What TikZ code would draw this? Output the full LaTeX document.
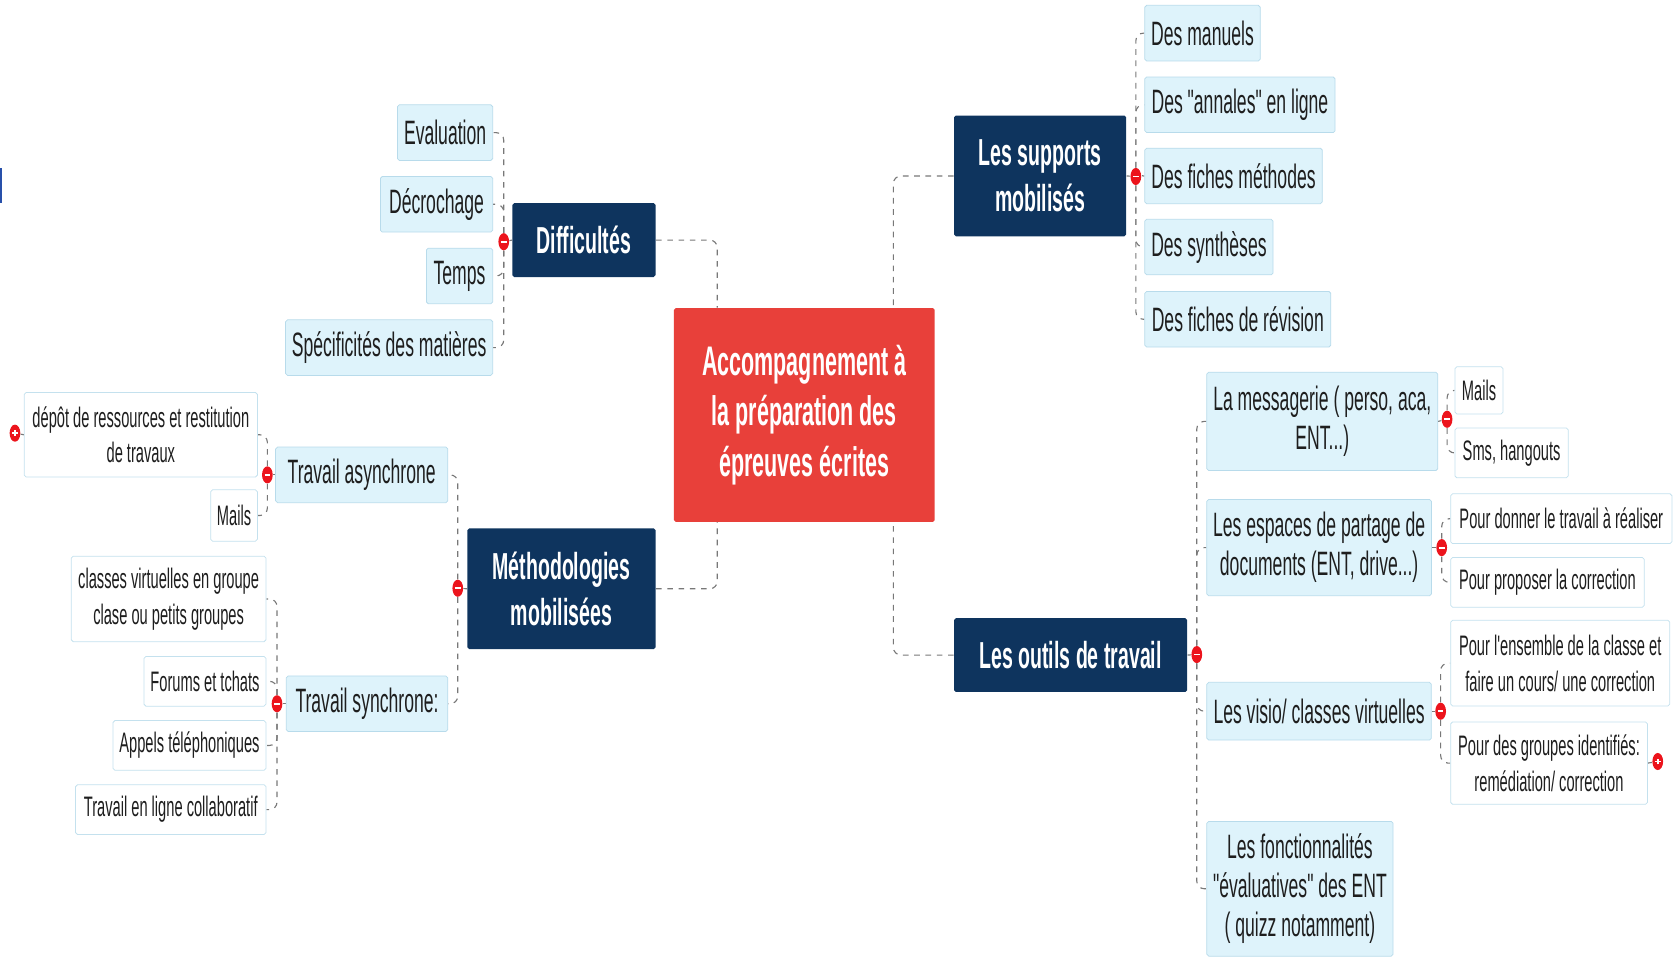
\documentclass[tikz,border=0pt]{standalone}
\usepackage{fontspec}
\setmainfont{Liberation Sans}[FakeStretch=0.52, Ligatures=TeXOff]
\usepackage{tikz}
\usetikzlibrary{shapes, positioning, calc}
\definecolor{rootred}{RGB}{232,64,58}
\definecolor{navy}{RGB}{14,52,94}
\definecolor{skyfill}{RGB}{222,243,251}
\definecolor{skyline}{RGB}{184,219,235}
\definecolor{leafline}{RGB}{196,225,238}
\definecolor{linkgrey}{RGB}{120,120,120}
\definecolor{foldred}{RGB}{236,20,28}
\definecolor{ink}{RGB}{30,30,30}
\definecolor{edgeblue}{RGB}{40,80,170}
\newcommand\rootfont{\fontsize{22}{27}\selectfont\bfseries}
\newcommand\topicfont{\fontsize{20}{24.5}\selectfont\bfseries}
\newcommand\subfont{\fontsize{18}{20.8}\selectfont}
\newcommand\leaffont{\fontsize{15}{19}\selectfont}
\pgfdeclarelayer{back}
\pgfsetlayers{back,main}
\tikzstyle{root} = [rectangle, fill=rootred, text=white, font=\rootfont, align=center, minimum width=4.88cm, minimum height=4cm, rounded corners=1pt]
\tikzstyle{topic} = [rectangle, fill=navy, text=white, font=\topicfont, align=center, rounded corners=1pt]
\tikzstyle{sub} = [rectangle, fill=skyfill, draw=skyline, text=ink, font=\subfont, align=center, minimum height=1.04cm, rounded corners=1pt]
\tikzstyle{leaf} = [rectangle, fill=white, draw=leafline, text=ink, font=\leaffont, align=center, minimum height=0.93cm, rounded corners=1pt]
\tikzstyle{link} = [draw=linkgrey, dashed, line width=0.6pt, rounded corners=4pt]
\tikzstyle{fold} = [ellipse, fill=foldred, minimum width=0.2cm, minimum height=0.32cm, inner sep=0pt, path picture={\draw[white, line width=1pt] ([xshift=-1.5pt]path picture bounding box.center) -- ([xshift=1.5pt]path picture bounding box.center);}]
\tikzstyle{unfold} = [ellipse, fill=foldred, minimum width=0.2cm, minimum height=0.32cm, inner sep=0pt, path picture={\draw[white, line width=1pt] ([xshift=-1.5pt]path picture bounding box.center) -- ([xshift=1.5pt]path picture bounding box.center) ([yshift=-1.5pt]path picture bounding box.center) -- ([yshift=1.5pt]path picture bounding box.center);}]
\begin{document}
\begin{tikzpicture}[x=0.02cm, y=-0.02cm]
\useasboundingbox (0,0) rectangle (1568,896);
\fill[edgeblue] (0,157) rectangle (2,190);

\node (root) [root] at (752,388) {Accompagnement à\\la préparation des\\épreuves écrites};

\node (diff) [topic, minimum width=2.68cm, minimum height=1.38cm] at (546,224.5) {Difficultés};
\node (meth) [topic, minimum width=3.52cm, minimum height=2.26cm] at (525,550.5) {Méthodologies\\mobilisées};
\node (supp) [topic, minimum width=3.22cm, minimum height=2.26cm] at (972.5,164.5) {Les supports\\mobilisés};
\node (outils) [topic, minimum width=4.36cm, minimum height=1.38cm] at (1001,612.5) {Les outils de travail};

\node (eval) [sub, anchor=east, minimum width=1.78cm] at (461,124) {Evaluation};
\node (decro) [sub, anchor=east, minimum width=2.1cm] at (461,191) {Décrochage};
\node (temps) [sub, anchor=east, minimum width=1.24cm] at (461,258) {Temps};
\node (speci) [sub, anchor=east, minimum width=3.86cm] at (461,325) {Spécificités des matières};

\node (manuels) [sub, anchor=west, minimum width=2.16cm] at (1070,31) {Des manuels};
\node (annales) [sub, anchor=west, minimum width=3.56cm] at (1070,98) {Des "annales" en ligne};
\node (methodes) [sub, anchor=west, minimum width=3.32cm] at (1070,164.5) {Des fiches méthodes};
\node (syntheses) [sub, anchor=west, minimum width=2.4cm] at (1070,231) {Des synthèses};
\node (revision) [sub, anchor=west, minimum width=3.48cm] at (1070,298.5) {Des fiches de révision};

\node (messag) [sub, anchor=west, minimum width=4.32cm, minimum height=1.84cm] at (1128,394) {La messagerie ( perso, aca,\\ENT...)};
\node (espaces) [sub, anchor=west, minimum width=4.2cm, minimum height=1.8cm] at (1128,512) {Les espaces de partage de\\documents (ENT, drive...)};
\node (visio) [sub, anchor=west, minimum width=4.2cm, minimum height=1.08cm] at (1128,665) {Les visio/ classes virtuelles};
\node (fonction) [sub, anchor=west, minimum width=3.48cm, minimum height=2.52cm] at (1128,831) {Les fonctionnalités\\"évaluatives" des ENT\\( quizz notamment)};

\node (mails) [leaf, anchor=west, minimum width=0.9cm, minimum height=0.88cm] at (1360,365) {Mails};
\node (sms) [leaf, anchor=west, minimum width=2.12cm] at (1360,423.5) {Sms, hangouts};
\node (donner) [leaf, anchor=west, minimum width=4.14cm] at (1356,485) {Pour donner le travail à réaliser};
\node (proposer) [leaf, anchor=west, minimum width=3.62cm] at (1356,544.5) {Pour proposer la correction};
\node (ensemble) [leaf, anchor=west, minimum width=4.1cm, minimum height=1.6cm] at (1356,620) {Pour l'ensemble de la classe et\\faire un cours/ une correction};
\node (groupes) [leaf, anchor=west, minimum width=3.68cm, minimum height=1.54cm] at (1356,713.5) {Pour des groupes identifiés:\\remédiation/ correction};

\node (async) [sub, anchor=east, minimum width=3.22cm] at (419,444) {Travail asynchrone};
\node (sync) [sub, anchor=east, minimum width=3.02cm] at (419,658) {Travail synchrone:};

\node (depot) [leaf, anchor=east, minimum width=4.36cm, minimum height=1.58cm] at (241,406.5) {dépôt de ressources et restitution\\de travaux};
\node (amails) [leaf, anchor=east, minimum width=0.82cm, minimum height=0.96cm] at (241,482) {Mails};
\node (classes) [leaf, anchor=east, minimum width=3.64cm, minimum height=1.6cm] at (249,560) {classes virtuelles en groupe\\clase ou petits groupes};
\node (forums) [leaf, anchor=east, minimum width=2.28cm] at (249,637) {Forums et tchats};
\node (appels) [leaf, anchor=east, minimum width=2.86cm] at (249,697) {Appels téléphoniques};
\node (enligne) [leaf, anchor=east, minimum width=3.56cm] at (249,757) {Travail en ligne collaboratif};

\node (fdiff) [fold] at (471,226) {};
\node (fsupp) [fold] at (1062,165) {};
\node (foutils) [fold] at (1119,612) {};
\node (fmessag) [fold] at (1353,392) {};
\node (fespaces) [fold] at (1348,512) {};
\node (fvisio) [fold] at (1347,665) {};
\node (fmeth) [fold] at (428,550) {};
\node (fasync) [fold] at (250,444) {};
\node (fsync) [fold] at (259,658) {};
\node (udepot) [unfold] at (14,405) {};
\node (ugroupes) [unfold] at (1550,712) {};

\begin{pgfonlayer}{back}
\draw [link] (diff.east) -| ([xshift=0.82cm]root.north west);
\draw [link] (meth.east) -| ([xshift=0.82cm]root.south west);
\draw [link] (supp.west) -| ([xshift=-0.78cm]root.north east);
\draw [link] (outils.west) -| ([xshift=-0.78cm]root.south east);

\draw [link] (diff.west) -- (fdiff);
\foreach \k in {eval, decro, temps, speci} \draw [link] (fdiff) |- (\k.east);
\draw [link] (supp.east) -- (fsupp);
\foreach \k in {manuels, annales, methodes, syntheses, revision} \draw [link] (fsupp) |- (\k.west);
\draw [link] (outils.east) -- (foutils);
\foreach \k in {messag, espaces, visio, fonction} \draw [link] (foutils) |- (\k.west);
\draw [link] (messag.east) -- (fmessag);
\foreach \k in {mails, sms} \draw [link] (fmessag) |- (\k.west);
\draw [link] (espaces.east) -- (fespaces);
\foreach \k in {donner, proposer} \draw [link] (fespaces) |- (\k.west);
\draw [link] (visio.east) -- (fvisio);
\foreach \k in {ensemble, groupes} \draw [link] (fvisio) |- (\k.west);
\draw [link] (meth.west) -- (fmeth);
\foreach \k in {async, sync} \draw [link] (fmeth) |- (\k.east);
\draw [link] (async.west) -- (fasync);
\foreach \k in {depot, amails} \draw [link] (fasync) |- (\k.east);
\draw [link] (sync.west) -- (fsync);
\foreach \k in {classes, forums, appels, enligne} \draw [link] (fsync) |- (\k.east);
\draw [link] (depot.west) -- (udepot);
\draw [link] (groupes.east) -- (ugroupes);
\end{pgfonlayer}
\end{tikzpicture}
\end{document}
